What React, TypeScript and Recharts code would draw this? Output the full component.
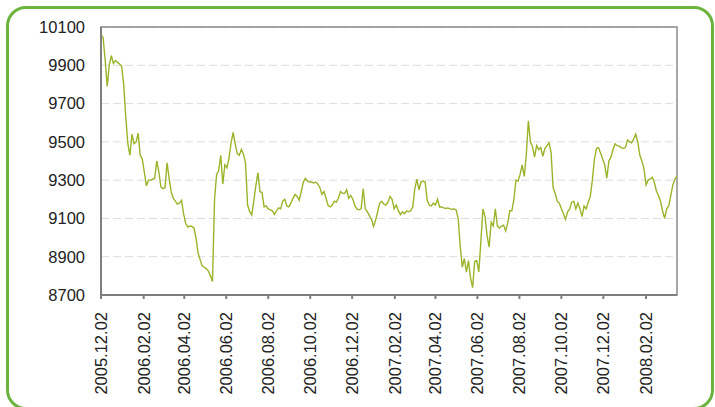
import React from "react";
import { LineChart, Line, XAxis, YAxis, CartesianGrid, ReferenceArea } from "recharts";

// Series sampled every 3 calendar days starting 2005.12.02
const START_DATE = "2005.12.02";
const STEP_DAYS = 3;
const values: number[] = [
  10060, 10045, 9930, 9790, 9900, 9950, 9910, 9925, 9915, 9907,
  9895, 9800, 9630, 9490, 9430, 9540, 9490, 9500, 9545, 9430,
  9410, 9340, 9270, 9300, 9300, 9305, 9310, 9400, 9345, 9265,
  9255, 9260, 9390, 9310, 9240, 9205, 9190, 9175, 9180, 9195,
  9125, 9075, 9055, 9060, 9058, 9050, 9000, 8920, 8885, 8852,
  8845, 8838, 8825, 8800, 8770, 9200, 9330, 9350, 9430, 9280,
  9380, 9365, 9415, 9495, 9550, 9490, 9440, 9430, 9460, 9435,
  9390, 9170, 9135, 9118, 9190, 9270, 9340, 9240, 9235, 9160,
  9165, 9150, 9145, 9140, 9120, 9140, 9155, 9150, 9190, 9200,
  9165, 9160, 9180, 9205, 9225, 9215, 9195, 9240, 9290, 9310,
  9295, 9290, 9290, 9285, 9290, 9280, 9262, 9225, 9240, 9205,
  9168, 9160, 9170, 9190, 9185, 9205, 9240, 9232, 9230, 9250,
  9205, 9220, 9200, 9165, 9148, 9145, 9150, 9255, 9150, 9135,
  9115, 9095, 9058, 9090, 9135, 9180, 9190, 9175, 9170, 9185,
  9215, 9200, 9150, 9170, 9142, 9120, 9135, 9125, 9138, 9135,
  9140, 9160, 9255, 9305, 9250, 9290, 9295, 9290, 9195, 9170,
  9165, 9180, 9170, 9200, 9160, 9160, 9155, 9152, 9155, 9150,
  9148, 9150, 9145, 9100, 8955, 8845, 8890, 8820, 8880, 8790,
  8738, 8875, 8880, 8820, 8980, 9150, 9110, 9010, 8950, 9080,
  9060, 9150, 9060, 9050, 9060, 9065, 9035, 9075, 9140, 9140,
  9200, 9300, 9295, 9330, 9380, 9320, 9430, 9610, 9500, 9475,
  9420, 9480, 9460, 9470, 9425, 9465, 9480, 9495, 9445, 9260,
  9230, 9190, 9180, 9150, 9125, 9095, 9135, 9150, 9185, 9190,
  9150, 9180, 9150, 9110, 9165, 9150, 9185, 9215, 9300, 9410,
  9465, 9470, 9440, 9410, 9380, 9310, 9400, 9420, 9460, 9490,
  9480, 9478, 9470, 9465, 9470, 9510, 9500, 9495, 9515, 9540,
  9500, 9430, 9400, 9360, 9275, 9300, 9305, 9315, 9290, 9245,
  9220, 9190, 9140, 9100, 9150, 9165, 9220, 9275, 9305, 9320,
];

// x tick positions (days after START_DATE) and their labels
const tickDays = [0, 62, 121, 182, 243, 304, 365, 427, 486, 547, 608, 669, 730, 792];
const tickLabels = [
  "2005.12.02", "2006.02.02", "2006.04.02", "2006.06.02", "2006.08.02",
  "2006.10.02", "2006.12.02", "2007.02.02", "2007.04.02", "2007.06.02",
  "2007.08.02", "2007.10.02", "2007.12.02", "2008.02.02",
];
const yTicks = [8700, 8900, 9100, 9300, 9500, 9700, 9900, 10100];

const data = values.map((v, i) => ({ day: i * STEP_DAYS, value: v }));
const lastDay = (values.length - 1) * STEP_DAYS;

const FONT = "'Liberation Sans', Arial, sans-serif";

const XTick = (props: any) => {
  const { x, y, payload } = props;
  const idx = tickDays.indexOf(payload.value);
  const label = idx >= 0 ? tickLabels[idx] : "";
  return (
    <text
      x={x}
      y={y}
      transform={`rotate(-90, ${x}, ${y})`}
      textAnchor="end"
      dy="0.36em"
      fontSize={16.5}
      fontFamily={FONT}
      fill="#222"
    >
      {label}
    </text>
  );
};

export default function App() {
  return (
    <div style={{ position: "absolute", left: 0, top: 0, width: 715, height: 407, background: "#fff", overflow: "hidden" }}>
      <div
        style={{
          position: "absolute",
          left: 6,
          top: 6,
          width: 708,
          height: 404,
          boxSizing: "border-box",
          border: "3px solid #6db33f",
          borderRadius: 20,
        }}
      />
      <div style={{ position: "absolute", left: 0, top: 0 }}>
        <LineChart width={715} height={407} data={data} margin={{ top: 27, right: 38, bottom: 12, left: 41 }}>
          <CartesianGrid vertical={false} stroke="#dcdcdc" strokeDasharray="8 4" />
          <ReferenceArea x1={0} x2={lastDay} y1={8700} y2={10100} fill="none" stroke="#8a8a8a" strokeWidth={1.5} ifOverflow="visible" />
          <XAxis
            dataKey="day"
            type="number"
            domain={[0, lastDay]}
            ticks={tickDays}
            interval={0}
            height={100}
            tickSize={4}
            tickMargin={13}
            stroke="#7f7f7f"
            strokeWidth={2}
            tick={<XTick />}
            allowDataOverflow
          />
          <YAxis
            type="number"
            domain={[8700, 10100]}
            ticks={yTicks}
            interval={0}
            width={60}
            tickLine={false}
            tickSize={6}
            tickMargin={10}
            stroke="#7f7f7f"
            strokeWidth={2}
            tick={{ fontSize: 16.5, fontFamily: FONT, fill: "#222" }}
            allowDataOverflow
          />
          <Line
            type="linear"
            dataKey="value"
            stroke="#98b52a"
            strokeWidth={1.4}
            dot={false}
            isAnimationActive={false}
          />
        </LineChart>
      </div>
    </div>
  );
}
